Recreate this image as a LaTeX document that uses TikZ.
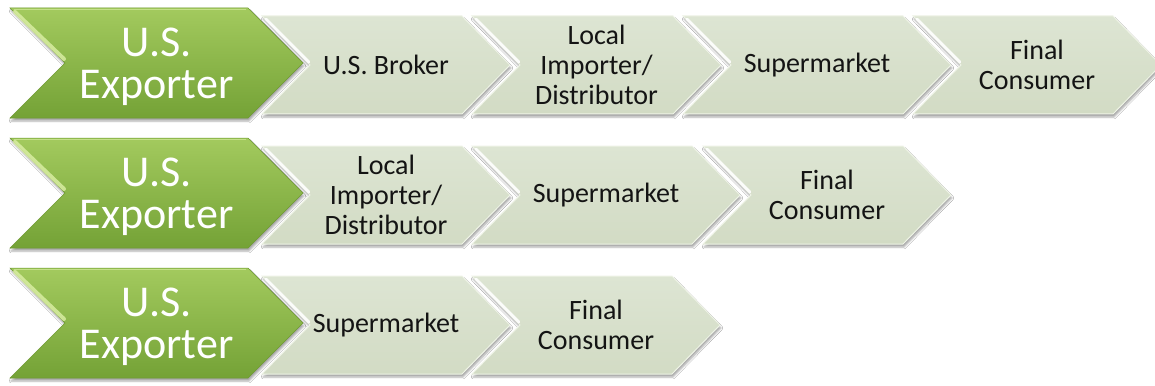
\documentclass[tikz,border=0pt]{standalone}
\usepackage{fontspec}
\setmainfont{Carlito}
\usetikzlibrary{shadows,shadows.blur,fadings}
\definecolor{gtop}{HTML}{A3CA5E}
\definecolor{gbot}{HTML}{74A236}
\definecolor{gedge}{HTML}{6E9A32}
\definecolor{ghi}{HTML}{DDF0A8}
\definecolor{sagetop}{HTML}{DDE5D3}
\definecolor{sagebot}{HTML}{D2DBC4}
\definecolor{sageedge}{HTML}{EEF3E6}
\definecolor{txt}{HTML}{141414}
\tikzset{
  greenshape/.style={top color=gtop,bottom color=gbot,draw=gedge,line width=0.5pt,
    blur shadow={shadow xshift=1pt,shadow yshift=-3pt,shadow opacity=35}},
  grayshape/.style={top color=sagetop,bottom color=sagebot,draw=sageedge,line width=1pt,
    blur shadow={shadow xshift=1pt,shadow yshift=-3pt,shadow opacity=35}},
  greenhi/.style={draw=ghi,line width=4pt,opacity=0.8,line cap=round},
  grayhi/.style={draw=white,line width=2.5pt,opacity=0.9,line cap=round},
  greentext/.style={text=white,align=center,font=\fontsize{44}{42}\selectfont,inner sep=0pt},
  graytext/.style={text=txt,align=center,font=\fontsize{28}{30}\selectfont,inner sep=0pt}
}
% #1 name, #2 centre y
\newcommand\greenchev[2]{%
  \path[greenshape] (10,#2-55) -- (248,#2-55) -- (303,#2) -- (248,#2+55) -- (10,#2+55) -- (65,#2) -- cycle;
  \draw[greenhi] (15,#2-51) -- (64,#2-4);
  \draw[draw=ghi,line width=1pt,opacity=0.6] (14,#2-53.5) -- (246,#2-53.5);
  \node[greentext] (#1) at (156.5,#2+4) {U.S.\\Exporter};
}
% #1 name, #2 left x, #3 top-right x, #4 centre y, #5 text
\newcommand\graychev[5]{%
  \path[grayshape] (#2,#4-49) -- (#3,#4-49) -- (#3+48,#4) -- (#3,#4+49) -- (#2,#4+49) -- (#2+48,#4) -- cycle;
  \draw[grayhi] (#2+4,#4-46) -- (#2+47,#4-3);
  \node[graytext] (#1) at ({(#2+48+#3)/2},#4) {#5};
}
\begin{document}
\begin{tikzpicture}[x=1pt,y=-1pt]
\useasboundingbox[fill=white] (0,0) rectangle (1155,385);
% row 1
\graychev{aD}{913}{1113}{65}{Final\\Consumer}
\graychev{aC}{683}{903}{65}{Supermarket}
\graychev{aB}{472}{673}{65}{Local\\Importer/\\Distributor}
\graychev{aA}{262}{462}{65}{U.S. Broker}
\greenchev{aX}{63}
% row 2
\graychev{bC}{703}{903}{195}{Final\\Consumer}
\graychev{bB}{472}{692}{195}{Supermarket}
\graychev{bA}{262}{462}{195}{Local\\Importer/\\Distributor}
\greenchev{bX}{193}
% row 3
\graychev{cB}{472}{672}{325}{Final\\Consumer}
\graychev{cA}{262}{462}{325}{Supermarket}
\greenchev{cX}{323}
\end{tikzpicture}
\end{document}
